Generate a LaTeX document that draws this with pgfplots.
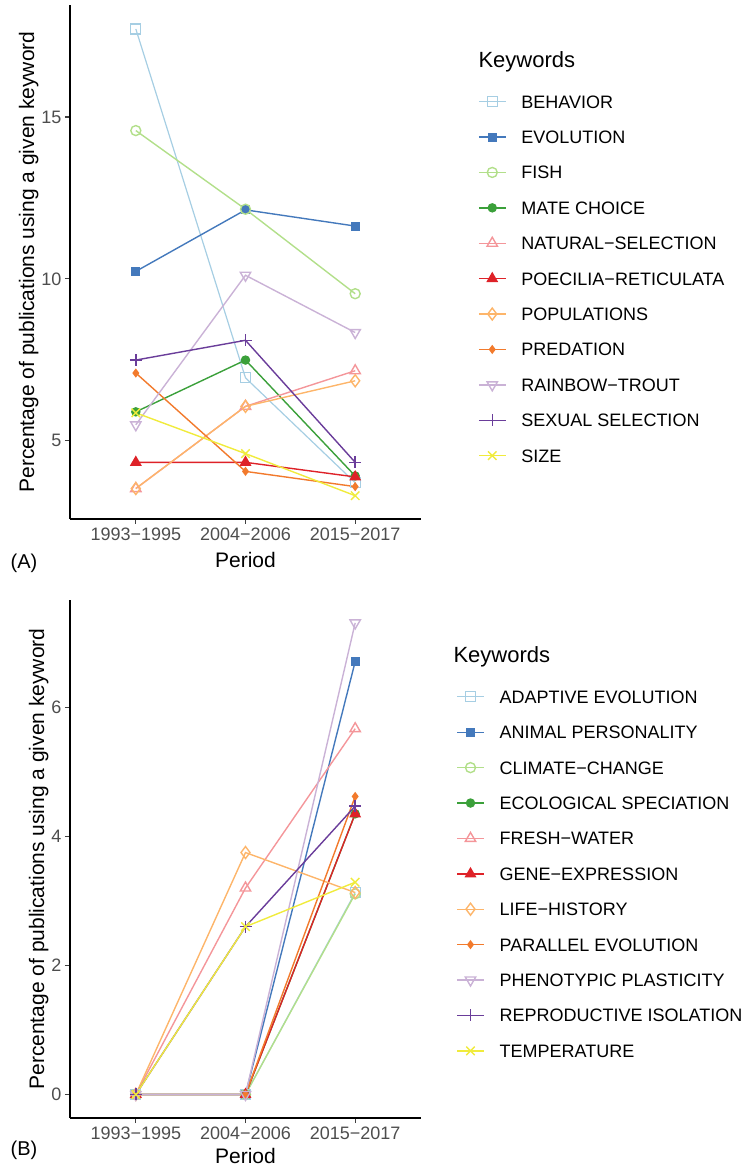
\documentclass[border=0pt]{standalone}
\usepackage{fontspec}
\setmainfont{Liberation Sans}
\usepackage{pgfplots}
\pgfplotsset{compat=1.18}
\definecolor{k1}{HTML}{A6CEE3}
\definecolor{k2}{HTML}{4479BC}
\definecolor{k3}{HTML}{B2DF8A}
\definecolor{k4}{HTML}{3BA03A}
\definecolor{k5}{HTML}{F4969A}
\definecolor{k6}{HTML}{DE2228}
\definecolor{k7}{HTML}{FDB56A}
\definecolor{k8}{HTML}{F27A2C}
\definecolor{k9}{HTML}{CAB2D6}
\definecolor{k10}{HTML}{6A3D9A}
\definecolor{k11}{HTML}{F0EB3C}
\definecolor{tickgray}{HTML}{4D4D4D}
\pgfplotsset{
  myaxis/.style={
    scale only axis, width=351pt,
    xmin=0.4, xmax=3.6,
    xtick={1,2,3}, xticklabels={1993−1995,2004−2006,2015−2017},
    axis x line*=bottom, axis y line*=left,
    axis line style={line width=1.5pt, black},
    tick align=outside, major tick length=5pt,
    tick style={line width=1.2pt, black!75},
    /pgf/number format/assume math mode=true,
    ticklabel style={font=\fontsize{18}{20}\selectfont, text=tickgray},
    xlabel={Period}, ylabel={Percentage of publications using a given keyword},
    label style={font=\fontsize{21}{24}\selectfont},
    xlabel style={yshift=-5pt},
    ylabel style={yshift=-4pt},
    every axis plot/.append style={line width=1.4pt, mark size=5pt},
    legend cell align=left,
    legend style={draw=none, fill=none, inner sep=0pt, column sep=15pt, row sep=22.4pt,
      font=\fontsize{18}{20}\selectfont,
      nodes={inner sep=0pt, text height=13pt, text depth=0pt}},
    legend image code/.code={\draw[mark repeat=2,mark phase=2] plot coordinates {(0pt,0pt) (13.5pt,0pt) (27pt,0pt)};},
  }
}
\begin{document}
\begin{tikzpicture}
\path[use as bounding box] (0pt,0pt) rectangle (753pt,1167pt);
% Panel A
\begin{axis}[myaxis, height=514pt, at={(70pt,648pt)}, anchor=south west,
  ymin=2.58, ymax=18.46, ytick={5,10,15},
  legend style={at={(1.162,0.825)}, anchor=north west}]
\addplot[k1, mark=square, line width=1.2pt] coordinates {(1,17.72) (2,6.94) (3,3.70)};
\addplot[k2, mark=square*, mark size=3.8pt] coordinates {(1,10.23) (2,12.13) (3,11.63)};
\addplot[k3, mark=o] coordinates {(1,14.58) (2,12.15) (3,9.54)};
\addplot[k4, mark=*, mark size=4pt] coordinates {(1,5.89) (2,7.49) (3,3.91)};
\addplot[k5, mark=triangle, mark size=6pt] coordinates {(1,3.52) (2,6.06) (3,7.16)};
\addplot[k6, mark=triangle*, mark size=5.5pt] coordinates {(1,4.33) (2,4.33) (3,3.88)};
\addplot[k7, mark=diamond, mark size=6pt] coordinates {(1,3.52) (2,6.06) (3,6.85)};
\addplot[k8, mark=diamond*, mark size=3.5pt] coordinates {(1,7.09) (2,4.05) (3,3.58)};
\addplot[k9, mark=triangle, mark size=6pt, mark options={rotate=180}] coordinates {(1,5.49) (2,10.11) (3,8.34)};
\addplot[k10, mark=+, mark size=6pt] coordinates {(1,7.49) (2,8.10) (3,4.33)};
\addplot[k11, mark=x, mark size=6pt] coordinates {(1,5.86) (2,4.60) (3,3.30)};
\legend{BEHAVIOR,EVOLUTION,FISH,MATE CHOICE,NATURAL−SELECTION,POECILIA−RETICULATA,POPULATIONS,PREDATION,RAINBOW−TROUT,SEXUAL SELECTION,SIZE}
\end{axis}
\node[anchor=west, font=\fontsize{22}{24}\selectfont] at (475pt,1105pt) {Keywords};
\node[font=\fontsize{20}{22}\selectfont] at (24pt,604pt) {(A)};
% Panel B
\begin{axis}[myaxis, height=518pt, at={(70pt,49pt)}, anchor=south west,
  ymin=-0.365, ymax=7.665, ytick={0,2,4,6},
  xlabel style={yshift=3pt},
  legend style={at={(1.100,0.826)}, anchor=north west}]
\addplot[k1, mark=square, line width=1.2pt] coordinates {(1,0) (2,0) (3,3.13)};
\addplot[k2, mark=square*, mark size=3.8pt] coordinates {(1,0) (2,0) (3,6.71)};
\addplot[k3, mark=o] coordinates {(1,0) (2,0) (3,3.11)};
\addplot[k4, mark=*, mark size=4pt] coordinates {(1,0) (2,0) (3,4.35)};
\addplot[k5, mark=triangle, mark size=6pt] coordinates {(1,0) (2,3.20) (3,5.67)};
\addplot[k6, mark=triangle*, mark size=5.5pt] coordinates {(1,0) (2,0) (3,4.35)};
\addplot[k7, mark=diamond, mark size=6pt] coordinates {(1,0) (2,3.75) (3,3.13)};
\addplot[k8, mark=diamond*, mark size=3.5pt] coordinates {(1,0) (2,0) (3,4.62)};
\addplot[k9, mark=triangle, mark size=6pt, mark options={rotate=180}] coordinates {(1,0) (2,0) (3,7.31)};
\addplot[k10, mark=+, mark size=6pt] coordinates {(1,0) (2,2.60) (3,4.47)};
\addplot[k11, mark=x, mark size=6pt] coordinates {(1,0) (2,2.60) (3,3.29)};
\legend{ADAPTIVE EVOLUTION,ANIMAL PERSONALITY,CLIMATE−CHANGE,ECOLOGICAL SPECIATION,FRESH−WATER,GENE−EXPRESSION,LIFE−HISTORY,PARALLEL EVOLUTION,PHENOTYPIC PLASTICITY,REPRODUCTIVE ISOLATION,TEMPERATURE}
\end{axis}
\node[anchor=west, font=\fontsize{22}{24}\selectfont] at (450pt,510pt) {Keywords};
\node[font=\fontsize{20}{22}\selectfont] at (24pt,17pt) {(B)};
\end{tikzpicture}
\end{document}
